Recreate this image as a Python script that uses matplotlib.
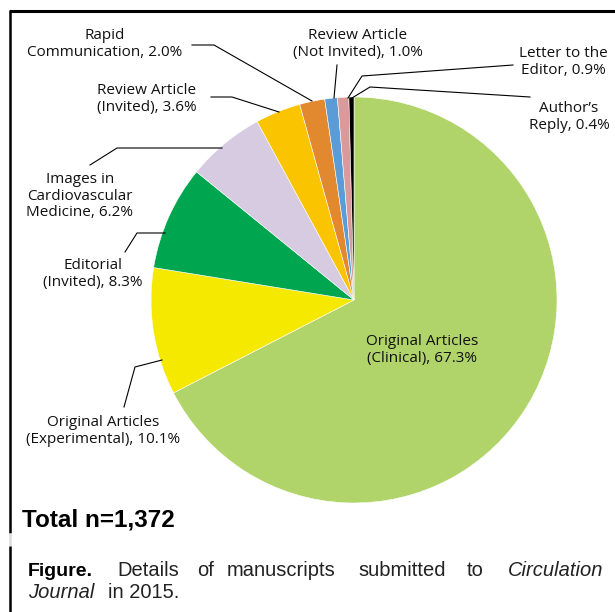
import matplotlib
matplotlib.use('Agg')
import matplotlib.pyplot as plt

W, H = 615, 612

# data (percent of all submitted manuscripts, clockwise from 12 o'clock)
categories = ['Original Articles\n(Clinical), 67.3%',
              'Original Articles\n(Experimental), 10.1%',
              'Editorial\n(Invited), 8.3%',
              'Images in\nCardiovascular\nMedicine, 6.2%',
              'Review Article\n(Invited), 3.6%',
              'Rapid\nCommunication, 2.0%',
              'Review Article\n(Not Invited), 1.0%',
              'Letter to the\nEditor, 0.9%',
              'Author\u2019s\nReply, 0.4%']
shares = [67.3, 10.1, 8.3, 6.2, 3.6, 2.0, 1.0, 0.9, 0.4]
total_n = '1,372'

colors = ['#b0d46a', '#f6e900', '#00a64f', '#d6cbe1', '#fac500',
          '#e2882f', '#5b9cd6', '#d89a9a', '#000000']

# label anchor (px, y down) and leader polyline for each category
label_pos = [(422, 350), (103, 431), (93, 274), (80, 196), (147, 99),
             (105, 44), (358, 44), (563, 62), (569, 117)]
leaders = [None,
           [(124, 407), (135, 367), (162, 360)],
           [(125, 252), (137, 233), (165, 233)],
           [(90, 165), (117, 148), (222, 148)],
           [(211, 97), (232, 97), (279, 112)],
           [(192, 45), (214, 45), (312, 101)],
           [(337, 65), (334, 98)],
           [(513, 65), (362, 76), (348, 98)],
           [(530, 97), (370, 87), (352, 98)]]

label_font = ['Open Sans', 'DejaVu Sans']
caption_font = ['Liberation Sans', 'DejaVu Sans']

fig = plt.figure(figsize=(W / 100, H / 100), dpi=100)
ax = fig.add_axes([0, 0, 1, 1])

# y axis is flipped below, so counterclock in data = clockwise on screen
ax.pie(shares, colors=colors, center=(354, 300), radius=203,
       startangle=-90, counterclock=True,
       wedgeprops=dict(edgecolor='white', linewidth=0.4))
ax.set_xlim(0, W)
ax.set_ylim(H, 0)
ax.axis('off')

for text, (x, y), line in zip(categories, label_pos, leaders):
    ax.text(x, y, text, ha='center', va='center', fontsize=11,
            family=label_font, linespacing=1.17, color='#111111')
    if line:
        xs, ys = zip(*line)
        ax.plot(xs, ys, color='black', lw=0.8)

# frame
ax.plot([9, W], [11, 11], color='black', lw=2.2, solid_capstyle='butt')
ax.plot([10, 10], [11, 533], color='black', lw=1.8, solid_capstyle='butt')
ax.plot([10, 10], [533, 546], color='#dddddd', lw=1.8, solid_capstyle='butt')
ax.plot([10, 10], [546, H], color='black', lw=1.8, solid_capstyle='butt')

ax.text(22, 520, 'Total n=' + total_n, ha='left', va='center',
        fontsize=17.5, fontweight='bold', family=caption_font)

# caption, justified word by word
cap = dict(va='center', fontsize=14.5, family=caption_font, color='#222222')
ax.text(28, 571, 'Figure.', ha='left', va='center', fontsize=14,
        fontweight='bold', family=caption_font)
words = [('Details', 117), ('of', 197), ('manuscripts', 227),
         ('submitted', 358), ('to', 467)]
for w, x in words:
    ax.text(x, 571, w, ha='left', **cap)
ax.text(603, 571, 'Circulation', ha='right', style='italic', **cap)
ax.text(28, 593, 'Journal', ha='left', style='italic', **cap)
ax.text(108, 593, 'in 2015.', ha='left', **cap)

fig.savefig('out.png', dpi=100)
